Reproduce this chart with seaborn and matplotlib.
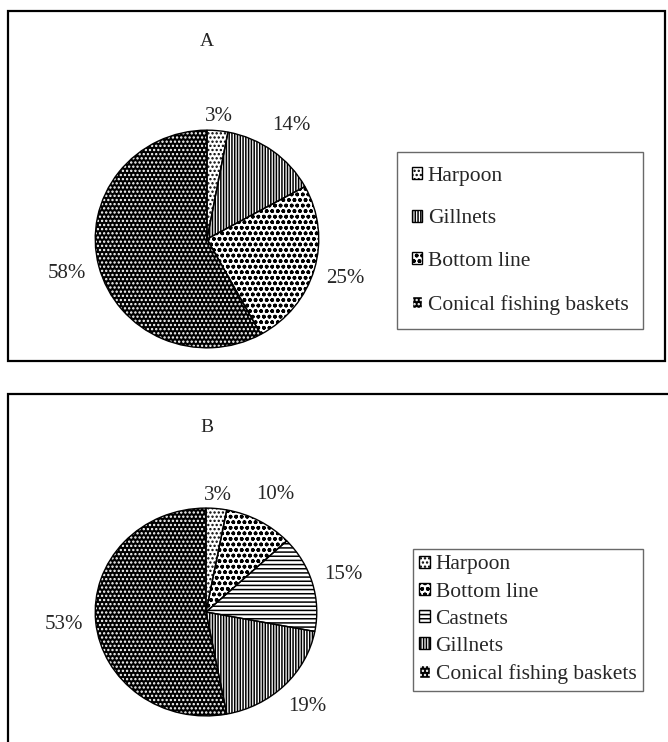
import matplotlib.pyplot as plt
import numpy as np
import seaborn as sns
from matplotlib.patches import Patch, Rectangle

sns.set_theme(style="white")
plt.rcParams['font.family'] = ['Liberation Serif', 'DejaVu Serif']
plt.rcParams['hatch.linewidth'] = 1.1

# panel A
gears_a = ['Harpoon', 'Gillnets', 'Bottom line', 'Conical fishing baskets']
share_a = [3, 14, 25, 58]

# panel B
gears_b = ['Harpoon', 'Bottom line', 'Castnets', 'Gillnets', 'Conical fishing baskets']
share_b = [3, 10, 15, 19, 53]

# fill per gear: face colour, hatch, hatch colour
fills = {
    'Harpoon': ('white', '....', 'black'),
    'Gillnets': ('white', '||||||', 'black'),
    'Bottom line': ('white', 'ooo', 'black'),
    'Castnets': ('white', '----', 'black'),
    'Conical fishing baskets': ('black', '....', 'white'),
}


def draw_pie(ax, gears, shares):
    # first pass: fill + hatch (hatch colour comes from edgecolor)
    wedges, _ = ax.pie(shares, startangle=90, counterclock=False,
                       wedgeprops=dict(linewidth=0))
    for w, g in zip(wedges, gears):
        face, hatch, hcol = fills[g]
        w.set_facecolor(face)
        w.set_edgecolor(hcol)
        w.set_hatch(hatch)
    # second pass: black outlines
    ax.pie(shares, startangle=90, counterclock=False,
           wedgeprops=dict(facecolor='none', edgecolor='black', linewidth=1.0))
    for w, s in zip(wedges, shares):
        ang = np.deg2rad((w.theta1 + w.theta2) / 2)
        d = 1.13 if s < 5 else 1.29
        ax.text(d * np.cos(ang), d * np.sin(ang), f'{s}%',
                ha='center', va='center', fontsize=15)
    ax.set_xlim(-1.02, 1.02)
    ax.set_ylim(-1.02, 1.02)
    ax.set_aspect('auto')
    ax.axis('off')


def legend_handles(gears):
    hs = []
    for g in gears:
        face, hatch, hcol = fills[g]
        hs.append(Patch(facecolor=face, edgecolor=hcol, hatch=hatch, label=g))
    return hs


W, H = 668, 742
fig = plt.figure(figsize=(W / 100, H / 100), dpi=100)


def px(x0, y0, x1, y1):
    # pixel box (from top-left) -> figure fraction rect
    return [x0 / W, 1 - y1 / H, (x1 - x0) / W, (y1 - y0) / H]


# panel frames
fa = px(8, 11, 665, 361)
fig.add_artist(Rectangle((fa[0], fa[1]), fa[2], fa[3], transform=fig.transFigure,
                         fill=False, edgecolor='black', linewidth=1.6))
fb = px(8, 394, 720, 800)
fig.add_artist(Rectangle((fb[0], fb[1]), fb[2], fb[3], transform=fig.transFigure,
                         fill=False, edgecolor='black', linewidth=1.6))

leg_kw = dict(loc='upper left', fontsize=15.5, frameon=True, fancybox=False,
              edgecolor='#444444', handlelength=0.5, handleheight=0.5,
              handletextpad=0.25, borderaxespad=0)

ax_a = fig.add_axes(px(93, 128, 321, 350))
draw_pie(ax_a, gears_a, share_a)
fig.text(207 / W, 1 - 42 / H, 'A', ha='center', va='center', fontsize=14)
leg_a = fig.legend(handles=legend_handles(gears_a),
                   bbox_to_anchor=(397 / W, 1 - 152 / H),
                   labelspacing=1.1, borderpad=0.68, **leg_kw)
leg_a.get_frame().set_linewidth(1.0)

ax_b = fig.add_axes(px(93, 506, 319, 718))
draw_pie(ax_b, gears_b, share_b)
fig.text(207 / W, 1 - 427 / H, 'B', ha='center', va='center', fontsize=14)
leg_b = fig.legend(handles=legend_handles(gears_b),
                   bbox_to_anchor=(413 / W, 1 - 549 / H),
                   labelspacing=0.38, borderpad=0.3, **leg_kw)
leg_b.get_frame().set_linewidth(1.0)

fig.savefig('out.png', dpi=100, facecolor='white')
